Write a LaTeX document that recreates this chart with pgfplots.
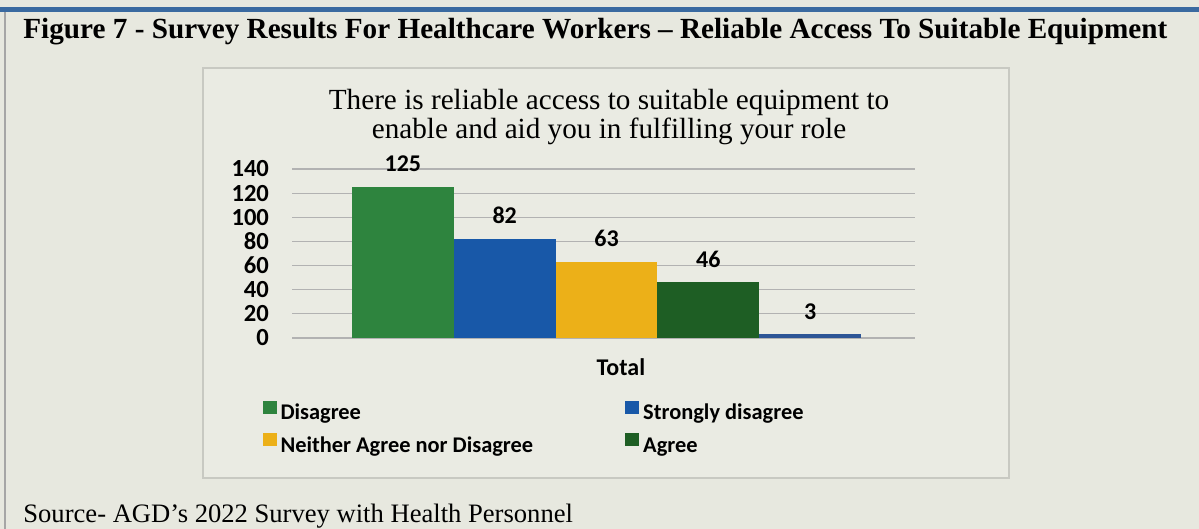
\documentclass[border=0pt]{standalone}
\usepackage{pgfplots}
\pgfplotsset{compat=1.18}
\usepackage{fontspec}
\setmainfont{Liberation Serif}
\newfontfamily\calib{Carlito}
\definecolor{bg}{RGB}{231,232,223}
\definecolor{boxbg}{RGB}{234,235,227}
\definecolor{boxline}{RGB}{200,201,194}
\definecolor{cgreen}{RGB}{46,132,62}
\definecolor{cblue}{RGB}{24,88,168}
\definecolor{cyellow}{RGB}{236,176,24}
\definecolor{cdkgreen}{RGB}{30,94,36}
\definecolor{cblue2}{RGB}{45,85,150}
\definecolor{topblue}{RGB}{58,106,160}
\begin{document}
\begin{tikzpicture}[x=0.5pt,y=-0.5pt]
\useasboundingbox (0,0) rectangle (1199,529);
\fill[bg] (0,0) rectangle (1199,529);
\fill[topblue] (0,7) rectangle (1199,12);
\draw[gray!70,line width=0.8pt] (5,12) -- (5,529);
\draw[boxline,fill=boxbg,line width=0.6pt] (203,68) rectangle (1009,478);
\node[font=\fontsize{14.6}{17}\selectfont\bfseries, anchor=west, inner sep=0pt] at (23,32) {Figure 7 - Survey Results For Healthcare Workers -- Reliable Access To Suitable Equipment};
\node[font=\fontsize{14.6}{14.5}\selectfont, align=center] at (609,117) {There is reliable access to suitable equipment to\\enable and aid you in fulfilling your role};
\node[font=\fontsize{13.3}{15}\selectfont, anchor=west, inner sep=0pt] at (23,516) {Source- AGD's 2022 Survey with Health Personnel};
\begin{axis}[
  at={(146pt,-169pt)}, anchor=south west,
  scale only axis, width=311.5pt, height=84.5pt,
  xmin=-0.089, xmax=6.03, ymin=0, ymax=140,
  ytick={0,20,...,140},
  xtick=\empty,
  ymajorgrids,
  grid style={draw=gray!60, line width=0.6pt},
  axis line style={draw=none},
  major tick length=0pt,
  yticklabel style={font=\calib\bfseries\fontsize{12.3}{12}\selectfont, anchor=east, xshift=-8pt},
  /pgf/number format/assume math mode=true,
  ybar, bar width=1, bar shift=0pt,
  nodes near coords,
  every node near coord/.append style={font=\calib\bfseries\fontsize{12}{12}\selectfont, black, yshift=4pt},
  xlabel={Total},
  xlabel style={font=\calib\bfseries\fontsize{12}{12}\selectfont, at={(axis description cs:0.528,-0.172)}, anchor=center},
  legend columns=2,
  legend cell align=left,
  legend style={at={(axis description cs:-0.0576,-0.342)}, anchor=north west, draw=none, fill=none,
     font=\calib\bfseries\fontsize{11.2}{12}\selectfont, row sep=3pt,
     /tikz/column 2/.style={column sep=44pt}},
  legend image code/.code={\fill[#1] (0pt,0pt) rectangle (7pt,6.5pt);},
]
\addplot[fill=cgreen, draw=none] coordinates {(1,125)};
\addplot[fill=cblue, draw=none] coordinates {(2,82)};
\addplot[fill=cyellow, draw=none] coordinates {(3,63)};
\addplot[fill=cdkgreen, draw=none] coordinates {(4,46)};
\addplot[fill=cblue2, draw=none, forget plot] coordinates {(5,3)};
\legend{Disagree, Strongly disagree, Neither Agree nor Disagree, Agree}
\end{axis}
\end{tikzpicture}
\end{document}
